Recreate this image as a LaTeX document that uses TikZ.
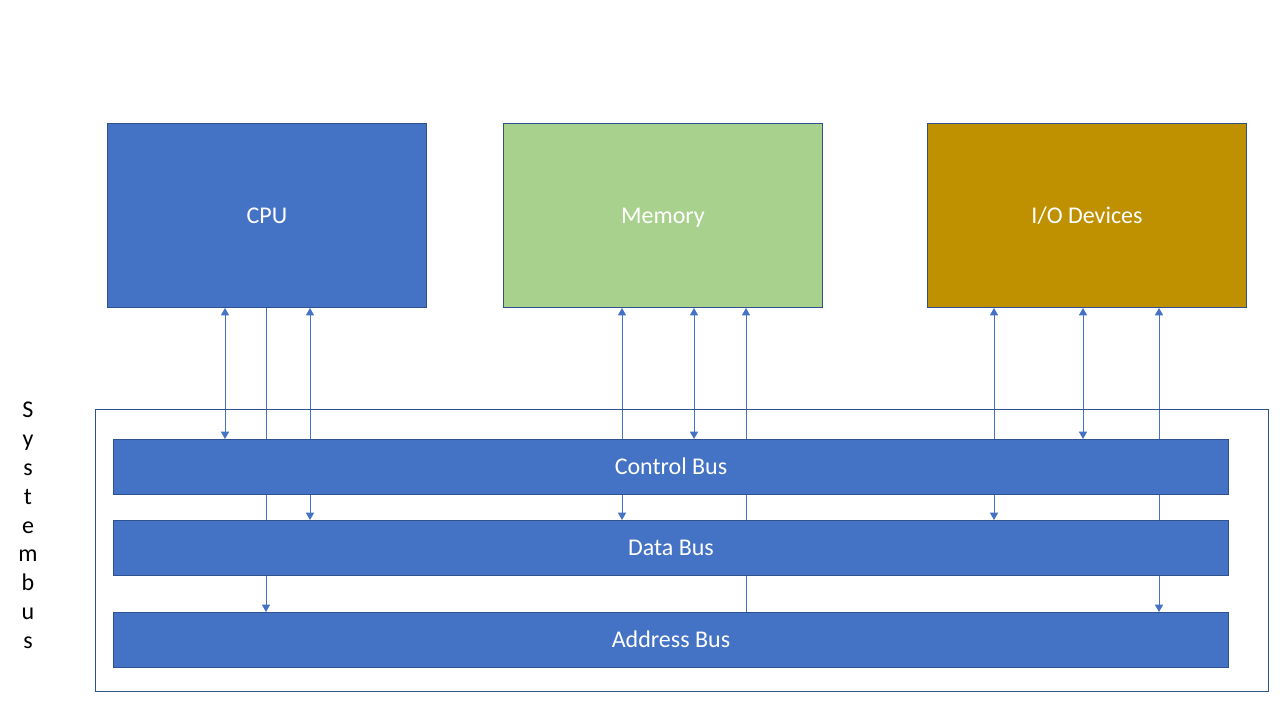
\documentclass[tikz,border=0pt]{standalone}
\usepackage{fontspec}
\setmainfont{Carlito}
\usetikzlibrary{arrows.meta}
\pgfdeclarelayer{background}
\pgfdeclarelayer{paper}
\pgfsetlayers{paper,background,main}
\definecolor{blueF}{HTML}{4472C4}
\definecolor{blueB}{HTML}{2F528F}
\definecolor{greenF}{HTML}{A9D18E}
\definecolor{goldF}{HTML}{BF9000}
\begin{document}
\begin{tikzpicture}[x=0.75pt,y=-0.75pt,
  unit/.style={draw=blueB, line width=0.75pt, anchor=north west, minimum width=239.25pt, minimum height=138pt, inner sep=0pt, text=white, text height=15.5pt, text depth=4pt, font=\fontsize{18}{21.6}\selectfont},
  bus/.style={draw=blueB, line width=0.75pt, fill=blueF, anchor=north west, minimum width=836.25pt, minimum height=41.25pt, inner sep=0pt, text=white, text height=15.5pt, text depth=4pt, font=\fontsize{18}{21.6}\selectfont},
  wire/.style={draw=blueF, line width=0.75pt},
  tip/.style={-{Triangle[width=6pt,length=5.5pt]}},
  tips/.style={{Triangle[width=6pt,length=5.5pt]}-{Triangle[width=6pt,length=5.5pt]}},
  pit/.style={{Triangle[width=6pt,length=5.5pt]}-}
]
\useasboundingbox (0,0) rectangle (1280,720);
\begin{pgfonlayer}{paper}
\fill[white] (0,0) rectangle (1280,720);
\end{pgfonlayer}

\node[unit, fill=blueF] (cpu) at (107,123) {CPU};
\node[unit, fill=greenF] (mem) at (503,123) {Memory};
\node[unit, fill=goldF] (io) at (927,123) {I/O Devices};

\node[draw=blueB, line width=0.75pt, anchor=north west, minimum width=879.75pt, minimum height=211.5pt, inner sep=0pt] (frame) at (95,409) {};

\node[bus] (ctrl) at (113,439) {Control Bus};
\node[bus] (data) at (113,520) {Data Bus};
\node[bus] (addr) at (113,612) {Address Bus};

\node[align=center, font=\fontsize{18}{21.6}\selectfont, inner sep=0pt, anchor=north] (sys) at (28,402) {S\\y\\s\\t\\e\\m\\b\\u\\s};

\foreach \n/\x in {a/225,b/266,c/310,d/622,e/694,f/746,g/994,h/1083,i/1159}
  \coordinate (x\n) at (\x,0);

\begin{pgfonlayer}{background}
\draw[wire,tips] (cpu.south -| xa) -- (ctrl.north -| xa);
\draw[wire,tip] (cpu.south -| xb) -- (addr.north -| xb);
\draw[wire,tips] (cpu.south -| xc) -- (data.north -| xc);
\draw[wire,tips] (mem.south -| xd) -- (data.north -| xd);
\draw[wire,tips] (mem.south -| xe) -- (ctrl.north -| xe);
\draw[wire,pit] (mem.south -| xf) -- (addr.north -| xf);
\draw[wire,tips] (io.south -| xg) -- (data.north -| xg);
\draw[wire,tips] (io.south -| xh) -- (ctrl.north -| xh);
\draw[wire,tips] (io.south -| xi) -- (addr.north -| xi);
\end{pgfonlayer}
\end{tikzpicture}
\end{document}
